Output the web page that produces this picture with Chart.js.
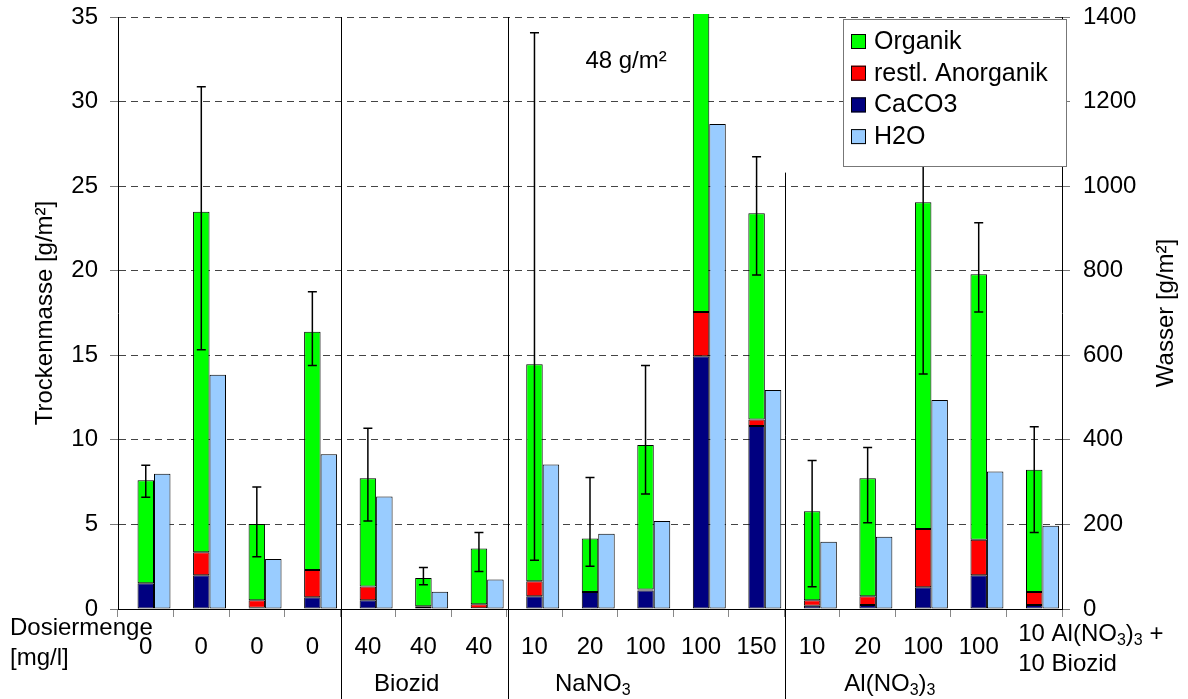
<!DOCTYPE html>
<html>
<head>
<meta charset="utf-8">
<title>Trockenmasse und Wasser</title>
<script src="https://cdn.jsdelivr.net/npm/chart.js@4.4.1/dist/chart.umd.min.js"></script>
<style>
    html, body { margin: 0; padding: 0; background: #fff; }
    #wrap { width: 1188px; height: 699px; }
</style>
</head>
<body>
<div id="wrap"><canvas id="chart" width="1188" height="699"></canvas></div>
<script>
// Dosing per sample [mg/l]; the last sample gets its own two-line label
const dosage = ['0', '0', '0', '0', '40', '40', '40', '10', '20', '100', '100', '150', '10', '20', '100', '100', ''];
const lastLabel = ['10 Al(NO_3)_3 +', '10 Biozid'];
const groupNames = ['Biozid', 'NaNO_3', 'Al(NO_3)_3'];

// Dry mass parts [g/m²]
const caco3     = [1.52, 1.99, 0.08, 0.70, 0.52, 0.12, 0.05, 0.75, 1.00, 1.10, 14.94, 10.82, 0.19, 0.23, 1.29, 1.99, 0.23];
const anorganik = [0.00, 1.36, 0.44, 1.60, 0.81, 0.04, 0.23, 0.89, 0.00, 0.05, 2.62, 0.38, 0.33, 0.52, 3.44, 2.11, 0.77];
const organik   = [6.09, 20.14, 4.51, 14.09, 6.40, 1.67, 3.30, 12.83, 3.17, 8.55, 30.44, 12.20, 5.26, 6.98, 19.32, 15.69, 7.24];

// Water [g/m²], right axis
const water = [320, 554, 118, 366, 266, 41, 70, 342, 178, 208, 1147, 518, 159, 171, 494, 325, 197];

// Error bars on the dry mass total (upper / lower)
const errPlus  = [0.89, 7.38, 2.18, 2.37, 2.95, 0.63, 0.94, 19.60, 3.61, 4.70, null, 3.34, 3.00, 1.82, 10.20, 3.04, 2.53];
const errMinus = [1.01, 8.17, 1.94, 1.99, 2.53, 0.40, 1.36, 11.59, 1.64, 2.90, null, 3.66, 4.47, 2.63, 10.15, 2.23, 3.72];

const yTicks = [0, 5, 10, 15, 20, 25, 30, 35];
const y2Ticks = [0, 200, 400, 600, 800, 1000, 1200, 1400];

const FONT = "'Liberation Sans', Arial, sans-serif";
Chart.defaults.font.family = FONT;
Chart.defaults.font.size = 24;
Chart.defaults.color = '#000';

const dsCaco3 = { label: 'CaCO3', data: caco3, backgroundColor: '#000080', stack: 'dry', yAxisID: 'y' };
const dsAnorg = { label: 'restl. Anorganik', data: anorganik, backgroundColor: '#ff0000', stack: 'dry', yAxisID: 'y' };
const dsOrg = { label: 'Organik', data: organik, backgroundColor: '#00ff00', stack: 'dry', yAxisID: 'y',
    clip: { left: 0, right: 0, top: 3, bottom: 0 } };
const dsWater = { label: 'H2O', data: water, backgroundColor: '#99ccff', stack: 'wet', yAxisID: 'y2' };
// empty stack so the bar pair sits right of the category centre
const dsPad = { label: '', data: dosage.map(() => null), stack: 'pad', yAxisID: 'y' };

// draws text where "_3" style parts are set as subscripts
function drawRich(ctx, str, x, y, align) {
    const parts = [];
    str.split(/(_\d)/).forEach(p => {
        if (!p) return;
        if (p[0] === '_') parts.push({ t: p.slice(1), sub: true });
        else parts.push({ t: p, sub: false });
    });
    const big = '24px ' + FONT, small = '16px ' + FONT;
    let width = 0;
    parts.forEach(p => {
        ctx.font = p.sub ? small : big;
        p.w = ctx.measureText(p.t).width;
        width += p.w;
    });
    let cx = align === 'center' ? x - width / 2 : x;
    ctx.textAlign = 'left';
    ctx.textBaseline = 'middle';
    parts.forEach(p => {
        ctx.font = p.sub ? small : big;
        ctx.fillText(p.t, cx, p.sub ? y + 7 : y);
        cx += p.w;
    });
}

// keep the plot area fixed: no extra room for overhanging tick labels
function noOverhang(s) {
    s.paddingTop = 0;
    s.paddingBottom = 0;
    s.paddingLeft = 0;
    s.paddingRight = 0;
}

const extras = {
    id: 'extras',
    afterDatasetsDraw(chart) {
        const ctx = chart.ctx;
        const y = chart.scales.y;
        const meta = chart.getDatasetMeta(chart.data.datasets.indexOf(dsOrg));
        ctx.save();
        ctx.strokeStyle = '#000';
        ctx.lineWidth = 1.5;
        meta.data.forEach((bar, i) => {
            if (errPlus[i] == null) return;
            const total = caco3[i] + anorganik[i] + organik[i];
            const top = y.getPixelForValue(total + errPlus[i]);
            const bot = y.getPixelForValue(total - errMinus[i]);
            ctx.beginPath();
            ctx.moveTo(bar.x, top);
            ctx.lineTo(bar.x, bot);
            ctx.moveTo(bar.x - 4.5, top);
            ctx.lineTo(bar.x + 4.5, top);
            ctx.moveTo(bar.x - 4.5, bot);
            ctx.lineTo(bar.x + 4.5, bot);
            ctx.stroke();
        });
        ctx.restore();
    },
    afterDraw(chart) {
        const ctx = chart.ctx;
        const { x, y } = chart.scales;
        const area = chart.chartArea;
        const H = chart.height;
        const edge = i => (x.getPixelForValue(i) + x.getPixelForValue(i + 1)) / 2;

        ctx.save();
        // group separators
        ctx.strokeStyle = '#000';
        ctx.lineWidth = 1;
        [[3, area.top], [6, area.top], [11, y.getPixelForValue(25.8)]].forEach(([i, from]) => {
            const px = Math.round(edge(i)) + 1.5;
            ctx.beginPath();
            ctx.moveTo(px, from);
            ctx.lineTo(px, H);
            ctx.stroke();
        });

        ctx.fillStyle = '#000';
        // note on the clipped bar
        ctx.font = '24px ' + FONT;
        ctx.textAlign = 'center';
        ctx.textBaseline = 'middle';
        ctx.fillText('48 g/m²', x.getPixelForValue(8.65), y.getPixelForValue(32.4));

        // axis titles
        ctx.save();
        ctx.translate(45, (area.top + area.bottom) / 2);
        ctx.rotate(-Math.PI / 2);
        ctx.fillText('Trockenmasse [g/m²]', 0, 0);
        ctx.restore();
        ctx.save();
        ctx.translate(1166, (area.top + area.bottom) / 2);
        ctx.rotate(-Math.PI / 2);
        ctx.fillText('Wasser [g/m²]', 0, 0);
        ctx.restore();

        // x axis captions
        ctx.textAlign = 'left';
        ctx.fillText('Dosiermenge', 10, 628);
        ctx.fillText('[mg/l]', 10, 658);
        const lx = x.getPixelForValue(16) - 16;
        drawRich(ctx, lastLabel[0], lx, 634, 'left');
        drawRich(ctx, lastLabel[1], lx, 664, 'left');
        [4.7, 8.05, 13.4].forEach((pos, k) => {
            drawRich(ctx, groupNames[k], x.getPixelForValue(pos), 684, 'center');
        });

        // legend box
        const items = [dsOrg, dsAnorg, dsCaco3, dsWater];
        const bx = area.right - 219, by = area.top + 2, bw = 223, bh = 147;
        ctx.fillStyle = '#fff';
        ctx.fillRect(bx, by, bw, bh);
        ctx.strokeStyle = '#777';
        ctx.lineWidth = 1;
        ctx.strokeRect(bx + 0.5, by + 0.5, bw, bh);
        ctx.font = '25px ' + FONT;
        ctx.textBaseline = 'middle';
        items.forEach((ds, k) => {
            const cy = by + 22 + k * 31.7;
            ctx.fillStyle = ds.backgroundColor;
            ctx.fillRect(bx + 8, cy - 7, 15, 15);
            ctx.strokeStyle = '#000';
            ctx.strokeRect(bx + 8.5, cy - 6.5, 14, 14);
            ctx.fillStyle = '#000';
            ctx.fillText(ds.label, bx + 31, cy + 1);
        });
        ctx.restore();
    }
};

new Chart(document.getElementById('chart'), {
    type: 'bar',
    data: {
        labels: dosage,
        datasets: [dsPad, dsCaco3, dsAnorg, dsOrg, dsWater]
    },
    options: {
        responsive: false,
        animation: false,
        layout: { padding: { top: 17, left: 0, right: 0, bottom: 0 } },
        datasets: {
            bar: {
                categoryPercentage: 0.89,
                barPercentage: 1,
                borderColor: '#000',
                borderWidth: 1,
                borderSkipped: false
            }
        },
        plugins: {
            legend: { display: false },
            tooltip: { enabled: false }
        },
        scales: {
            x: {
                stacked: true,
                grid: { offset: true, drawOnChartArea: false, tickLength: 8, color: '#888' },
                border: { color: '#000', width: 1 },
                ticks: { padding: 16, maxRotation: 0, autoSkip: false, font: { size: 24 } },
                afterFit: s => { noOverhang(s); s.height = 90; }
            },
            y: {
                stacked: true,
                min: 0,
                max: 35,
                afterBuildTicks: s => { s.ticks = yTicks.map(v => ({ value: v })); },
                grid: { color: '#444', lineWidth: 1, tickLength: 8, tickColor: '#777' },
                border: { color: '#000', width: 1, dash: [7, 5] },
                ticks: { padding: 12, font: { size: 24 } },
                afterFit: s => { noOverhang(s); s.width = 118; }
            },
            y2: {
                position: 'right',
                min: 0,
                max: 1400,
                afterBuildTicks: s => { s.ticks = y2Ticks.map(v => ({ value: v })); },
                grid: { drawOnChartArea: false, tickLength: 8, tickColor: '#777' },
                border: { color: '#000', width: 1 },
                ticks: { padding: 13, font: { size: 24 }, callback: v => String(v) },
                afterFit: s => { noOverhang(s); s.width = 126; }
            }
        }
    },
    plugins: [extras]
});
</script>
</body>
</html>
